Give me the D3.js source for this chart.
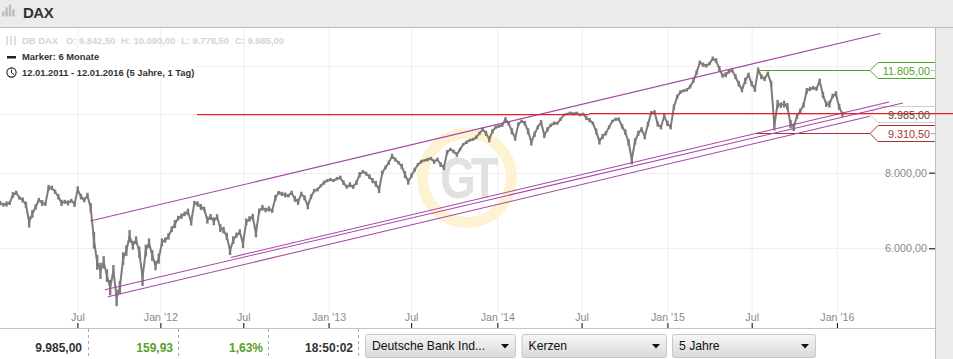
<!DOCTYPE html>
<html>
<head>
<meta charset="utf-8">
<title>DAX</title>
<script src="https://cdnjs.cloudflare.com/ajax/libs/d3/7.8.5/d3.min.js"></script>
<style>
    html, body { margin: 0; padding: 0; background: #fff; overflow: hidden; }
    svg { display: block; font-family: "Liberation Sans", Arial, sans-serif; }
</style>
</head>
<body>
<div id="viz"></div>
<script>
// weekly closes, one per week from 12.01.2011 to 12.01.2016
const closes = [
    7130,7080,7100,7130,7350,7410,7270,7210,7080,6630,6840,7020,7210,7130,7100,7550,7550,7440,7300,7130,
    7160,7130,7190,7100,7500,7300,7210,7330,7000,6190,5690,5510,5690,5410,5170,5510,4970,5170,5770,5950,
    6280,6070,6190,5910,5370,5950,6120,5840,5620,5770,6140,6190,6280,6450,6580,6730,6780,6840,6890,6630,
    7130,7100,7020,6970,6680,6760,6650,6760,6480,6430,6280,5950,6190,6310,6380,6120,6630,6710,6760,6360,
    6920,7000,6940,6970,6920,7270,7410,7380,7350,7330,7410,7240,7160,7380,7270,7050,7300,7470,7500,7610,
    7700,7760,7790,7760,7820,7850,7700,7580,7640,7580,7700,7940,8030,7970,7880,7760,7670,7500,8000,8160,
    8310,8510,8410,8310,8190,7940,7730,7910,8090,8250,8340,8380,8410,8440,8340,8410,8250,8160,8640,8740,
    8670,8570,8740,8910,8980,9050,9080,9150,9290,9430,9290,9080,9360,9510,9540,9580,9800,9650,9360,9120,
    9620,9730,9650,9360,8980,9260,9510,9690,9220,9430,9580,9650,9650,9800,9960,10000,10040,10000,10040,9960,
    10000,9840,9770,9650,9360,9010,9180,9290,9510,9730,9800,9800,9540,9330,8980,8410,9010,9290,9430,9180,
    9620,10040,10070,9620,9510,9920,9650,9510,10270,10670,10870,10920,10960,11090,11340,11700,12160,12060,12010,12110,
    12340,12250,11880,11570,11610,11750,11790,11520,11220,10960,11340,11610,11220,11000,11830,11520,11430,11660,11220,9580,
    10380,10340,10380,10300,9620,9510,9920,10110,10340,10920,11000,11040,11000,11340,10750,10380,10380,10710,10790,10270,
    9985
];

// how far the candles of each week spread around the close, index points
const weekSpread = [
    60,50,70,55,80,60,50,70,85,140,100,70,60,80,55,85,65,60,75,85,
    55,70,50,80,95,75,65,80,125,200,160,170,135,130,150,120,155,130,140,120,
    150,100,90,130,170,135,110,120,100,110,90,60,80,70,100,60,70,60,85,90,
    55,70,80,60,90,75,100,70,95,80,85,100,90,60,70,115,90,70,80,105,
    60,75,60,70,55,80,50,60,70,50,60,80,85,60,70,90,65,50,55,40,
    60,45,50,40,50,60,70,55,75,60,65,80,50,60,70,75,85,100,60,55,
    70,85,60,55,80,105,90,70,60,50,60,45,55,50,70,60,75,85,80,50,
    60,75,55,45,60,50,50,65,55,70,90,100,75,60,50,60,80,85,110,90,
    70,55,85,110,115,95,65,80,100,80,60,70,55,60,50,40,50,60,45,55,
    50,70,80,60,105,110,90,75,65,50,60,70,85,100,115,155,110,90,80,100,
    85,70,75,95,80,90,100,80,100,85,75,60,70,80,85,100,90,100,85,80,
    100,110,125,95,110,90,80,110,120,105,135,90,115,130,100,110,100,90,130,185,
    170,110,135,125,155,140,105,95,100,120,90,80,85,100,130,110,135,90,110,120,
    100
];

// the axis runs on trading time, so ticks sit on week positions
const xTickWeeks = [23.9, 49.5, 75.1, 101.4, 126.9, 153.5, 179.5, 206, 232, 258.3];
const xTickLabels = ["Jul", "Jan '12", "Jul", "Jan '13", "Jul", "Jan '14", "Jul", "Jan '15", "Jul", "Jan '16"];
const yGridValues = [12000, 10000, 8000, 6000];
const yTickValues = [8000, 6000];

// trend channels: [start week, start price, end week, end price]
const trendLines = [
    [27.8, 6655, 271.8, 13580],
    [71.3, 5796, 274.4, 10465],
    [32.4, 5127, 278.7, 10425],
    [33.3, 4990, 268.5, 9917]
];

const redLevels = [
    [60.8, 181.8, 9977],
    [181.8, 294.2, 10015]
];

const priceTags = [
    { value: 11805, start: 233.6, color: "#4fa32f", text: "#4fa32f" },
    { value: 9985, start: null, color: "#cfcfcf", text: "#4a4a4a" },
    { value: 9310.5, start: 233.3, color: "#a83232", text: "#a83232" }
];

const ohlcLabels = ["DB DAX", "O: 9.842,50", "H: 10.090,00", "L: 9.778,50", "C: 9.985,00"];
const ohlcX = [22, 66, 121, 181, 235];
const footerLabels = ["9.985,00", "159,93", "1,63%", "18:50:02"];
const footerColors = ["#333", "#5aa02c", "#5aa02c", "#333"];
const footerRight = [82, 173, 263, 353];
const footerDash = [88, 178, 268, 358];
const selectLabels = ["Deutsche Bank Ind...", "Kerzen", "5 Jahre"];
const selectLeft = [365, 521.5, 672];
const selectRight = [515, 666, 815];

const width = 953;
const height = 359;
const plotRight = 935;

const de = d3.formatLocale({ decimal: ",", thousands: ".", grouping: [3], currency: ["", ""] });
const fmt = de.format(",.2f");

const x = d3.scaleLinear().domain([0, 260]).range([0, 842.4]);
const y = d3.scaleLog().domain([6000, 11805]).range([248.3, 70.3]);

const svg = d3.select("#viz").append("svg")
    .attr("width", width)
    .attr("height", height);

svg.append("defs").append("linearGradient")
    .attr("id", "btn")
    .attr("x1", 0).attr("x2", 0).attr("y1", 0).attr("y2", 1)
    .selectAll("stop")
    .data([["0%", "#f6f6f6"], ["100%", "#dadada"]])
    .join("stop")
        .attr("offset", d => d[0])
        .attr("stop-color", d => d[1]);

// grid
svg.selectAll(".grid-x")
    .data(xTickWeeks)
    .join("line")
        .attr("class", "grid-x")
        .attr("x1", d => x(d) + 0.5)
        .attr("x2", d => x(d) + 0.5)
        .attr("y1", 28)
        .attr("y2", 313)
        .attr("stroke", "#eeeeee");

svg.selectAll(".grid-y")
    .data(yGridValues)
    .join("line")
        .attr("class", "grid-y")
        .attr("x1", 0)
        .attr("x2", plotRight)
        .attr("y1", d => Math.round(y(d)) + 0.5)
        .attr("y2", d => Math.round(y(d)) + 0.5)
        .attr("stroke", "#eeeeee");

// watermark
svg.append("circle")
    .attr("cx", 467)
    .attr("cy", 178)
    .attr("r", 44.5)
    .attr("fill", "none")
    .attr("stroke", "#fdf3d2")
    .attr("stroke-width", 11);

svg.append("text")
    .attr("transform", "translate(467,198) scale(0.8,1)")
    .attr("text-anchor", "middle")
    .style("font-size", "57px")
    .style("font-weight", 700)
    .style("letter-spacing", "-6px")
    .style("fill", "#e1e1e1")
    .text("GT");

// white box behind the legend
svg.append("rect")
    .attr("x", 0)
    .attr("y", 48)
    .attr("width", 195)
    .attr("height", 31)
    .attr("fill", "#fff");

// price tags sit under the lines
const tagG = svg.selectAll(".tag")
    .data(priceTags)
    .join("g")
        .attr("class", "tag")
        .attr("transform", d => `translate(0,${Math.round(y(d.value)) + 0.5})`);

tagG.append("path")
    .attr("d", `M${plotRight},-8 H878 L870,0 L878,8 H${plotRight}`)
    .attr("fill", "#fff")
    .attr("stroke", d => d.color)
    .attr("stroke-width", 1);

tagG.filter(d => d.start !== null).append("line")
    .attr("x1", d => x(d.start))
    .attr("x2", 870)
    .attr("stroke", d => d.color)
    .attr("stroke-width", 1.2);

tagG.append("line")
    .attr("x1", 931)
    .attr("x2", 935)
    .attr("stroke", d => d.color)
    .attr("stroke-opacity", 0.5);

tagG.append("text")
    .attr("x", 930)
    .attr("y", 4)
    .attr("text-anchor", "end")
    .style("font-size", "10.8px")
    .style("fill", d => d.text)
    .text(d => fmt(d.value));

// price series: weekly spread plus a close line
svg.selectAll(".wick")
    .data(closes)
    .join("line")
        .attr("class", "wick")
        .attr("x1", (d, i) => x(i))
        .attr("x2", (d, i) => x(i))
        .attr("y1", (d, i) => y(d - weekSpread[i]))
        .attr("y2", (d, i) => y(d + weekSpread[i]))
        .attr("stroke", "#7f7b78")
        .attr("stroke-width", 2.4);

const line = d3.line()
    .x((d, i) => x(i))
    .y(d => y(d));

svg.append("path")
    .datum(closes)
    .attr("d", line)
    .attr("fill", "none")
    .attr("stroke", "#7f7b78")
    .attr("stroke-width", 2)
    .attr("stroke-linejoin", "bevel");

// trend channels
svg.selectAll(".trend")
    .data(trendLines)
    .join("line")
        .attr("class", "trend")
        .attr("x1", d => x(d[0]))
        .attr("y1", d => y(d[1]))
        .attr("x2", d => x(d[2]))
        .attr("y2", d => y(d[3]))
        .attr("stroke", "#a845a8")
        .attr("stroke-width", 1.05);

// y axis
const yAxis = svg.append("g")
    .attr("transform", `translate(${plotRight},0)`)
    .call(d3.axisLeft(y).tickValues(yTickValues).tickFormat(fmt).tickSize(6).tickPadding(2));
yAxis.select(".domain").remove();
yAxis.selectAll("line").attr("stroke", "#000");
yAxis.selectAll("text")
    .style("font-size", "10.8px")
    .style("font-family", "\"Liberation Sans\", Arial, sans-serif")
    .style("fill", "#8a8a8a");

// x axis
const xAxis = svg.append("g")
    .attr("transform", "translate(0,323)")
    .call(d3.axisBottom(x)
        .tickValues(xTickWeeks)
        .tickFormat((d, i) => xTickLabels[i])
        .tickSize(5));
xAxis.select(".domain").remove();
xAxis.selectAll("line").attr("stroke", "#000");
xAxis.selectAll("text")
    .attr("y", -10)
    .style("font-size", "10.7px")
    .style("font-family", "\"Liberation Sans\", Arial, sans-serif")
    .style("fill", "#8a8a8a");

// right panel
const panelG = svg.append("g");
panelG.append("rect")
    .attr("x", plotRight + 0.5)
    .attr("y", 0)
    .attr("width", width - plotRight)
    .attr("height", height)
    .attr("fill", "#ececec");
panelG.append("line")
    .attr("x1", plotRight + 0.5)
    .attr("x2", plotRight + 0.5)
    .attr("y1", 28)
    .attr("y2", height)
    .attr("stroke", "#bdbdbd");

// red levels go over everything in the plot
svg.selectAll(".red")
    .data(redLevels)
    .join("line")
        .attr("class", "red")
        .attr("x1", d => x(d[0]))
        .attr("x2", d => x(d[1]))
        .attr("y1", d => y(d[2]))
        .attr("y2", d => y(d[2]))
        .attr("stroke", "#e8202a")
        .attr("stroke-width", 1.2);

// header
svg.append("rect")
    .attr("width", width)
    .attr("height", 27)
    .attr("fill", "#ebebeb");
svg.append("line")
    .attr("x1", 0)
    .attr("x2", width)
    .attr("y1", 27.5)
    .attr("y2", 27.5)
    .attr("stroke", "#bdbdbd");

svg.selectAll(".head-bar")
    .data([5, 9, 12, 7])
    .join("rect")
        .attr("class", "head-bar")
        .attr("x", (d, i) => 2 + i * 3.4)
        .attr("y", d => 16.5 - d)
        .attr("width", 2.4)
        .attr("height", d => d)
        .attr("fill", "#bcbcbc");

svg.append("text")
    .attr("x", 23)
    .attr("y", 17.5)
    .style("font-size", "15px")
    .style("font-weight", 700)
    .style("letter-spacing", "-0.5px")
    .style("fill", "#333")
    .text("DAX");

// legend
svg.selectAll(".ohlc")
    .data(ohlcLabels)
    .join("text")
        .attr("class", "ohlc")
        .attr("x", (d, i) => ohlcX[i])
        .attr("y", 44)
        .style("font-size", "9.4px")
        .style("font-weight", 700)
        .style("fill", "#d4d4d4")
        .text(d => d);

svg.selectAll(".ohlc-icon")
    .data([7, 11, 15])
    .join("line")
        .attr("class", "ohlc-icon")
        .attr("x1", d => d)
        .attr("x2", d => d)
        .attr("y1", 36)
        .attr("y2", 45)
        .attr("stroke", "#c9c9c9")
        .attr("stroke-width", 1.2);

svg.append("rect")
    .attr("x", 7)
    .attr("y", 56)
    .attr("width", 9)
    .attr("height", 2.5)
    .attr("fill", "#222");

svg.append("text")
    .attr("x", 22)
    .attr("y", 60)
    .style("font-size", "9.4px")
    .style("fill", "#333")
    .style("font-weight", 700)
    .text("Marker: 6 Monate");

svg.append("circle")
    .attr("cx", 11.5)
    .attr("cy", 72.5)
    .attr("r", 4.6)
    .attr("fill", "#fff")
    .attr("stroke", "#222")
    .attr("stroke-width", 1.1);
svg.append("path")
    .attr("d", "M11.5,69.5 V72.8 L14,74.5")
    .attr("fill", "none")
    .attr("stroke", "#222");

svg.append("text")
    .attr("x", 22)
    .attr("y", 76)
    .style("font-size", "9.4px")
    .style("fill", "#333")
    .style("font-weight", 700)
    .text("12.01.2011 - 12.01.2016 (5 Jahre, 1 Tag)");

// footer
svg.append("line")
    .attr("x1", 0)
    .attr("x2", plotRight)
    .attr("y1", 328.5)
    .attr("y2", 328.5)
    .attr("stroke", "#c4c4c4");

svg.selectAll(".foot-dash")
    .data(footerDash)
    .join("line")
        .attr("class", "foot-dash")
        .attr("x1", d => d + 0.5)
        .attr("x2", d => d + 0.5)
        .attr("y1", 329)
        .attr("y2", height)
        .attr("stroke", "#aaa")
        .attr("stroke-dasharray", "3,3");

svg.selectAll(".foot-text")
    .data(footerLabels)
    .join("text")
        .attr("class", "foot-text")
        .attr("x", (d, i) => footerRight[i])
        .attr("y", 352)
        .attr("text-anchor", "end")
        .style("font-size", "12px")
        .style("font-weight", 700)
        .style("fill", (d, i) => footerColors[i])
        .text(d => d);

const selects = svg.selectAll(".select")
    .data(selectLabels)
    .join("g")
        .attr("class", "select");

selects.append("rect")
    .attr("x", (d, i) => selectLeft[i] + 0.5)
    .attr("y", 334.5)
    .attr("width", (d, i) => selectRight[i] - selectLeft[i])
    .attr("height", 23)
    .attr("rx", 2)
    .attr("fill", "url(#btn)")
    .attr("stroke", "#c8c8c8");

selects.append("text")
    .attr("x", (d, i) => selectLeft[i] + 7)
    .attr("y", 350)
    .style("font-size", "12.2px")
    .style("fill", "#111")
    .text(d => d);

selects.append("path")
    .attr("d", (d, i) => `M${selectRight[i] - 14},344 h8 l-4,4.5 z`)
    .attr("fill", "#111");
</script>
</body>
</html>
